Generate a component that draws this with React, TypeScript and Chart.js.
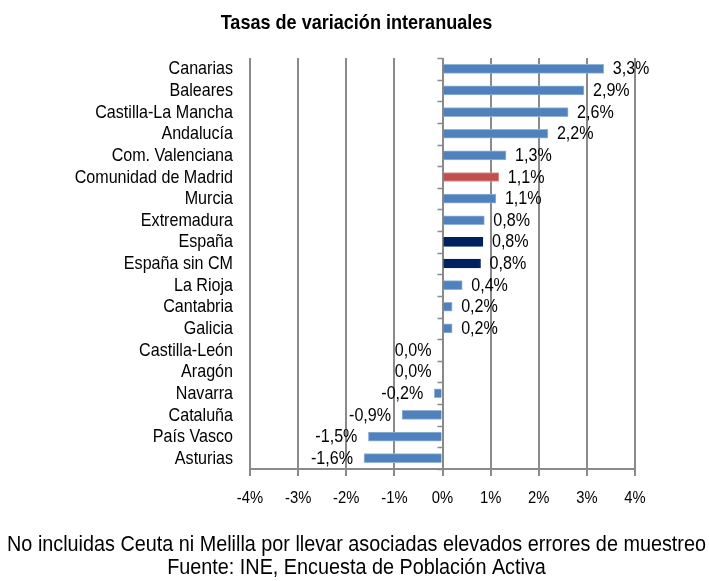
import React, { useEffect, useRef } from "react";
import { Chart, registerables } from "chart.js";

Chart.register(...registerables);

const categories = [
  "Canarias",
  "Baleares",
  "Castilla-La Mancha",
  "Andalucía",
  "Com. Valenciana",
  "Comunidad de Madrid",
  "Murcia",
  "Extremadura",
  "España",
  "España sin CM",
  "La Rioja",
  "Cantabria",
  "Galicia",
  "Castilla-León",
  "Aragón",
  "Navarra",
  "Cataluña",
  "País Vasco",
  "Asturias",
];

const values = [3.35, 2.94, 2.61, 2.19, 1.32, 1.17, 1.11, 0.87, 0.84, 0.79, 0.41, 0.2, 0.2, 0, 0, -0.17, -0.84, -1.54, -1.63];

const shownLabels = ["3,3%", "2,9%", "2,6%", "2,2%", "1,3%", "1,1%", "1,1%", "0,8%", "0,8%", "0,8%", "0,4%", "0,2%", "0,2%", "0,0%", "0,0%", "-0,2%", "-0,9%", "-1,5%", "-1,6%"];

const xTicks = [-4, -3, -2, -1, 0, 1, 2, 3, 4];

const titleText = "Tasas de variación interanuales";
const footerLines = [
  "No incluidas Ceuta ni Melilla por llevar asociadas elevados errores de muestreo",
  "Fuente: INE, Encuesta de Población Activa",
];

const BLUE = "#4F81BD";
const RED = "#C0504D";
const NAVY = "#00215F";
const GRID = "#8A8A8A";
const FAM = "'Liberation Sans', Arial, sans-serif";

function barColor(cat: string) {
  if (cat === "Comunidad de Madrid") return RED;
  if (cat === "España" || cat === "España sin CM") return NAVY;
  return BLUE;
}
function barBorder(cat: string) {
  if (cat === "Comunidad de Madrid") return "#D99694";
  if (cat === "España" || cat === "España sin CM") return NAVY;
  return "#95B3D7";
}

// draws text horizontally condensed (Arial Narrow look) around its anchor
function narrowText(ctx: any, text: string, x: number, y: number, align: string, font: string, sx: number) {
  ctx.save();
  ctx.translate(x, y);
  ctx.scale(sx, 1);
  ctx.font = font;
  ctx.textAlign = align;
  ctx.textBaseline = "middle";
  ctx.fillStyle = "#000";
  ctx.fillText(text, 0, 0);
  ctx.restore();
}

const textPlugin = {
  id: "narrowTexts",
  afterDraw(chart: any) {
    const ctx = chart.ctx;
    const xs = chart.scales.x;
    const ys = chart.scales.y;
    const area = chart.chartArea;
    const W = chart.width;

    // title
    narrowText(ctx, titleText, W / 2 + 2, 23.5, "center", `bold 21px ${FAM}`, 0.86);

    // category labels
    categories.forEach((c, i) => {
      narrowText(ctx, c, 233, ys.getPixelForValue(i) + 0.5, "right", `18.5px ${FAM}`, 0.87);
    });

    // x tick labels
    xTicks.forEach((v) => {
      narrowText(ctx, `${v}%`, xs.getPixelForValue(v), 498, "center", `17px ${FAM}`, 0.87);
    });

    // value labels
    const meta = chart.getDatasetMeta(0);
    meta.data.forEach((el: any, i: number) => {
      const v = values[i];
      if (v > 0) {
        narrowText(ctx, shownLabels[i], el.x + 9, el.y + 0.5, "left", `18.5px ${FAM}`, 0.87);
      } else {
        narrowText(ctx, shownLabels[i], Math.min(el.x, el.base) - 11, el.y + 0.5, "right", `18.5px ${FAM}`, 0.87);
      }
    });

    // footer
    footerLines.forEach((line, i) => {
      narrowText(ctx, line, W / 2 + 2, 545 + i * 23, "center", `22px ${FAM}`, 0.9);
    });
  },
};

const zeroTicksPlugin = {
  id: "zeroTicks",
  afterDraw(chart: any) {
    const ctx = chart.ctx;
    const xs = chart.scales.x;
    const x0 = xs.getPixelForValue(0);
    const area = chart.chartArea;
    ctx.save();
    ctx.strokeStyle = GRID;
    ctx.lineWidth = 1.5;
    const n = categories.length;
    const step = (area.bottom - area.top) / n;
    for (let i = 0; i <= n; i++) {
      const y = Math.round(area.top + i * step) + 0.5;
      ctx.beginPath();
      ctx.moveTo(x0 - 5, y);
      ctx.lineTo(x0, y);
      ctx.stroke();
    }
    ctx.restore();
  },
};

export default function App() {
  const ref = useRef<HTMLCanvasElement | null>(null);

  useEffect(() => {
    document.body.style.margin = "0";
    const canvas = ref.current!;
    const chart = new Chart(canvas, {
      type: "bar",
      data: {
        labels: categories,
        datasets: [
          {
            data: values,
            backgroundColor: categories.map(barColor),
            borderColor: categories.map(barBorder),
            borderWidth: 1,
            barThickness: 9,
          },
        ],
      },
      options: {
        indexAxis: "y",
        animation: false,
        responsive: false,
        maintainAspectRatio: false,
        layout: { padding: { left: 250, right: 74, top: 58, bottom: 112 } },
        plugins: {
          legend: { display: false },
          tooltip: { enabled: false },
          title: { display: false },
        },
        scales: {
          x: {
            min: -4,
            max: 4,
            afterFit(scale: any) {
              scale.height = 0;
            },
            afterBuildTicks(scale: any) {
              scale.ticks = xTicks.map((v) => ({ value: v }));
            },
            ticks: { display: false },
            grid: {
              color: GRID,
              lineWidth: 2,
              drawTicks: true,
              tickLength: 7,
            },
            border: { display: true, color: GRID, width: 2 },
          },
          y: {
            display: false,
          },
        },
      },
      plugins: [textPlugin, zeroTicksPlugin],
    } as any);
    return () => chart.destroy();
  }, []);

  return (
    <div style={{ width: 709, height: 581 }}>
      <canvas ref={ref} width={709} height={581} style={{ display: "block", width: 709, height: 581 }} />
    </div>
  );
}
